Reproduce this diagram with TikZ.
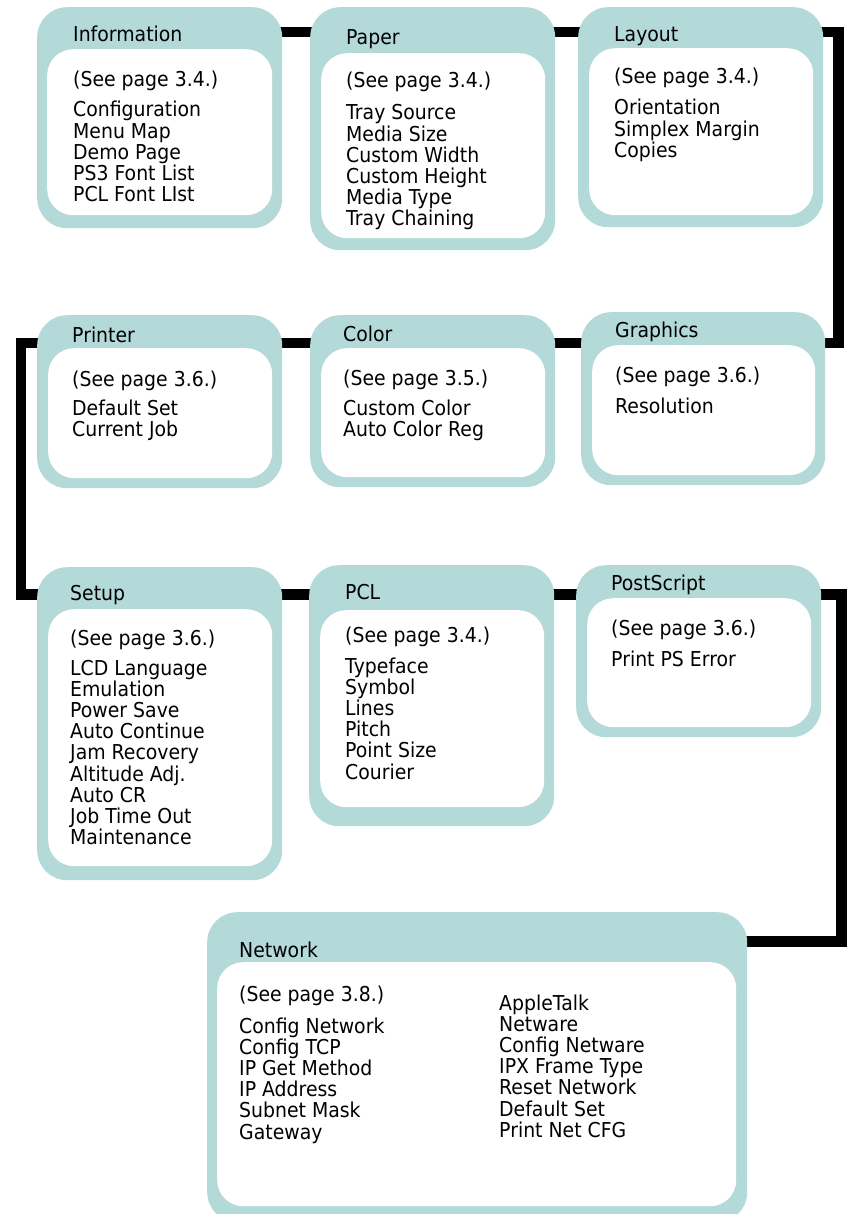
\documentclass[tikz,border=0pt]{standalone}
\usepackage{fontspec}
\setmainfont{DejaVu Sans}[FakeStretch=0.92]
\pgfdeclarelayer{background}
\pgfsetlayers{background,main}
\definecolor{boxteal}{RGB}{179,217,216}
\tikzset{
  outerbox/.style={fill=boxteal, rounded corners=30pt, inner sep=0pt, anchor=north west},
  innerbox/.style={fill=white, rounded corners=26pt, inner sep=0pt, anchor=north west},
  conn/.style={line width=10.5pt, draw=black, line join=miter},
  ttl/.style={font=\fontsize{20.5}{21}\selectfont, inner sep=0pt, anchor=base west, text=black},
  itm/.style={font=\fontsize{20.5}{21}\selectfont, inner sep=0pt, anchor=base west, text=black},
}
\newcommand\menubox[9]{%
  \node[outerbox, minimum width=#4pt, minimum height=#5pt] (#1) at (#2,#3) {};
  \node[innerbox, minimum width=#8pt, minimum height=#9pt] (#1-in) at (#6,#7) {};
}
\newcommand\itemlist[4]{%
  \foreach \t [count=\i] in {#4} {\node[itm] (#1-\i) at (#2,{#3+(\i-1)*21.2}) {\t};}%
}
\begin{document}
\begin{tikzpicture}[x=1pt,y=-1pt]
\clip (0,0) rectangle (852,1214);

% boxes
\menubox{info}{37}{7}{245}{221}{47}{49}{225}{166}
\menubox{paper}{310}{7}{245}{243}{321}{53}{224}{185}
\menubox{layout}{578}{7}{245}{220}{589}{48}{224}{167}
\menubox{printer}{37}{315}{245}{173}{48}{348}{224}{130}
\menubox{color}{310}{315}{245}{172}{321}{348}{224}{129}
\menubox{graphics}{581}{312}{244}{173}{592}{345}{223}{130}
\menubox{setup}{37}{567}{245}{313}{48}{609}{224}{257}
\menubox{pcl}{309}{565}{245}{261}{320}{610}{224}{197}
\menubox{ps}{576}{565}{245}{172}{587}{598}{224}{129}
\menubox{network}{207}{912}{540}{310}{217}{962}{519}{244}

% connectors
\coordinate (row1) at (0,32);
\coordinate (row2) at (0,343);
\coordinate (row3) at (0,594.5);
\coordinate (row4) at (0,941.5);
\coordinate (colL) at (21,0);
\coordinate (colR1) at (838.5,0);
\coordinate (colR2) at (841.5,0);
\begin{pgfonlayer}{background}
\fill[white] (0,0) rectangle (852,1214);
\draw[conn] (info |- row1) -- (paper |- row1) -- (layout |- row1)
  -| (colR1 |- row2) -- (graphics |- row2) -- (color |- row2) -- (printer |- row2)
  -| (colL |- row3) -- (setup |- row3) -- (pcl |- row3) -- (ps |- row3)
  -| (colR2 |- row4) -- (network |- row4);
\end{pgfonlayer}

% Information
\node[ttl] (info-t) at (73,42) {Information};
\node[itm] (info-see) at (73,87) {(See page 3.4.)};
\itemlist{info}{73}{117}{Configuration,Menu Map,Demo Page,PS3 Font List,PCL Font LIst}

% Paper
\node[ttl] (paper-t) at (346,45) {Paper};
\node[itm] (paper-see) at (346,88) {(See page 3.4.)};
\itemlist{paper}{346}{120}{Tray Source,Media Size,Custom Width,Custom Height,Media Type,Tray Chaining}

% Layout
\node[ttl] (layout-t) at (614,42) {Layout};
\node[itm] (layout-see) at (614,84) {(See page 3.4.)};
\itemlist{layout}{614}{115}{Orientation,Simplex Margin,Copies}

% Printer
\node[ttl] (printer-t) at (72,342) {Printer};
\node[itm] (printer-see) at (72,386) {(See page 3.6.)};
\itemlist{printer}{72}{415}{Default Set,Current Job}

% Color
\node[ttl] (color-t) at (343,341) {Color};
\node[itm] (color-see) at (343,385) {(See page 3.5.)};
\itemlist{color}{343}{415}{Custom Color,Auto Color Reg}

% Graphics
\node[ttl] (graphics-t) at (615,337) {Graphics};
\node[itm] (graphics-see) at (615,382) {(See page 3.6.)};
\itemlist{graphics}{615}{413}{Resolution}

% Setup
\node[ttl] (setup-t) at (70,600) {Setup};
\node[itm] (setup-see) at (70,645) {(See page 3.6.)};
\itemlist{setup}{70}{675}{LCD Language,Emulation,Power Save,Auto Continue,Jam Recovery,Altitude Adj.,Auto CR,Job Time Out,Maintenance}

% PCL
\node[ttl] (pcl-t) at (345,599) {PCL};
\node[itm] (pcl-see) at (345,642) {(See page 3.4.)};
\itemlist{pcl}{345}{673}{Typeface,Symbol,Lines,Pitch,Point Size,Courier}

% PostScript
\node[ttl] (ps-t) at (611,590) {PostScript};
\node[itm] (ps-see) at (611,635) {(See page 3.6.)};
\itemlist{ps}{611}{666}{Print PS Error}

% Network
\node[ttl] (network-t) at (239,957) {Network};
\node[itm] (network-see) at (239,1001) {(See page 3.8.)};
\itemlist{netl}{239}{1033}{Config Network,Config TCP,IP Get Method,IP Address,Subnet Mask,Gateway}
\itemlist{netr}{499}{1010}{AppleTalk,Netware,Config Netware,IPX Frame Type,Reset Network,Default Set,Print Net CFG}
\end{tikzpicture}
\end{document}
